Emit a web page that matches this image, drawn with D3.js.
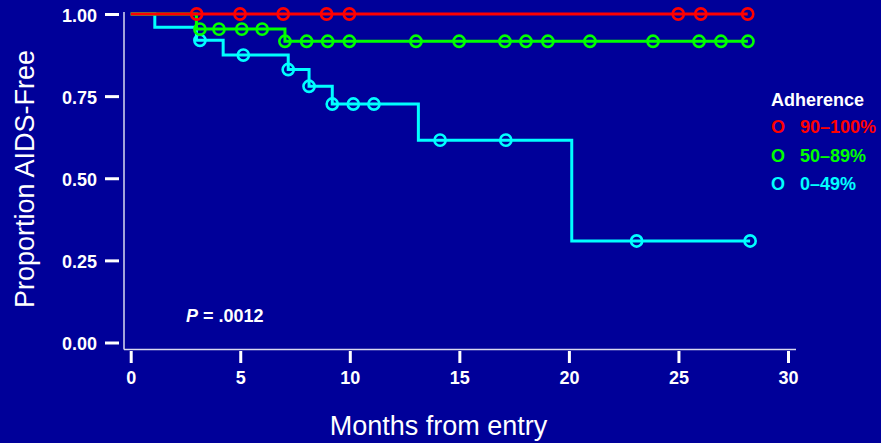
<!DOCTYPE html>
<html>
<head>
<meta charset="utf-8">
<script src="https://cdn.jsdelivr.net/npm/d3@7/dist/d3.min.js"></script>
<style>
  html, body { margin: 0; padding: 0; background: #000099; }
  svg { display: block; }
  text { font-family: "Liberation Sans", Arial, Helvetica, sans-serif; fill: #ffffff; }
</style>
</head>
<body>
<svg id="chart" width="881" height="443"></svg>
<script>
// Kaplan-Meier curves: proportion AIDS-free by adherence group
const groupLabels = ["90\u2013100%", "50\u201389%", "0\u201349%"];
const groupColors = ["#ff0000", "#00ff00", "#00ffff"];

// Event times (months) and survival level after each event
const redEventTimes = [];
const redSurvival = [];
const redCensored = [3.01, 4.99, 6.96, 8.94, 9.98, 24.99, 26.02, 28.16];
const redEnd = 28.16;

const greenEventTimes = [3.0, 7.04];
const greenSurvival = [0.954, 0.917];
const greenCensored = [3.16, 4.03, 5.07, 6.0, 7.04, 8.03, 8.99, 9.98, 13.02, 14.99, 17.08, 18.04, 19.04, 20.96, 23.84, 25.94, 26.94, 28.17];
const greenEnd = 28.17;

const cyanEventTimes = [1.1, 3.0, 4.22, 7.19, 8.14, 9.2, 13.13, 20.13];
const cyanSurvival = [0.96, 0.92, 0.875, 0.831, 0.78, 0.726, 0.616, 0.309];
const cyanCensored = [3.16, 5.14, 7.19, 8.14, 9.2, 10.16, 11.1, 14.12, 17.12, 23.09, 28.27];
const cyanEnd = 28.27;

const xTicks = [0, 5, 10, 15, 20, 25, 30];
const yTicks = [0, 0.25, 0.5, 0.75, 1.0];
const pValueText = " = .0012";

const series = [
  { times: cyanEventTimes, surv: cyanSurvival, censored: cyanCensored, end: cyanEnd, color: groupColors[2] },
  { times: greenEventTimes, surv: greenSurvival, censored: greenCensored, end: greenEnd, color: groupColors[1] },
  { times: redEventTimes, surv: redSurvival, censored: redCensored, end: redEnd, color: groupColors[0] }
];

const svg = d3.select("#chart");
svg.append("rect").attr("width", 881).attr("height", 443).attr("fill", "#000099");

const x = d3.scaleLinear().domain([0, 30]).range([130.7, 788]);
const y = d3.scaleLinear().domain([0, 1]).range([342.5, 14]);

// Frame: left and bottom lines
const frameColor = "#d8d8f0";
svg.append("line").attr("x1", 124).attr("x2", 124).attr("y1", 12).attr("y2", 349.5)
  .attr("stroke", frameColor).attr("stroke-width", 1.5);
svg.append("line").attr("x1", 124).attr("x2", 796).attr("y1", 349.5).attr("y2", 349.5)
  .attr("stroke", frameColor).attr("stroke-width", 1.5);

// Y axis (detached ticks)
const yAxis = svg.append("g").attr("transform", "translate(119,0)")
  .call(d3.axisLeft(y).tickValues(yTicks).tickFormat(d3.format(".2f")).tickSizeInner(14).tickSizeOuter(0).tickPadding(8));
yAxis.select(".domain").remove();
yAxis.selectAll(".tick line").attr("stroke", "#ffffff").attr("stroke-width", 3);
yAxis.selectAll(".tick text").attr("fill", "#ffffff").attr("font-size", 18).attr("font-weight", "bold")
  .attr("dy", "0.4em").style("font-family", '"Liberation Sans", Arial, sans-serif');

// X axis (detached ticks)
const xAxis = svg.append("g").attr("transform", "translate(0,351)")
  .call(d3.axisBottom(x).tickValues(xTicks).tickFormat(d3.format("d")).tickSizeInner(12).tickSizeOuter(0).tickPadding(8));
xAxis.select(".domain").remove();
xAxis.selectAll(".tick line").attr("stroke", "#ffffff").attr("stroke-width", 3);
xAxis.selectAll(".tick text").attr("fill", "#ffffff").attr("font-size", 18).attr("font-weight", "bold")
  .style("font-family", '"Liberation Sans", Arial, sans-serif');

// Survival step curves
const line = d3.line().x(d => x(d[0])).y(d => y(d[1])).curve(d3.curveStepAfter);
function levelAt(s, t) {
  const i = d3.bisectRight(s.times, t + 1e-9);
  return i === 0 ? 1 : s.surv[i - 1];
}
series.forEach(s => {
  const pts = [[0, 1]];
  s.times.forEach((t, i) => pts.push([t, s.surv[i]]));
  pts.push([s.end, s.surv.length ? s.surv[s.surv.length - 1] : 1]);
  svg.append("path").datum(pts).attr("d", line)
    .attr("fill", "none").attr("stroke", s.color).attr("stroke-width", 3)
    .attr("stroke-linejoin", "miter");
  svg.append("g").selectAll("circle").data(s.censored).join("circle")
    .attr("cx", d => x(d)).attr("cy", d => y(levelAt(s, d))).attr("r", 5.6)
    .attr("fill", "none").attr("stroke", s.color).attr("stroke-width", 2.6);
});

// Axis titles
svg.append("text").attr("x", 438.5).attr("y", 435).attr("text-anchor", "middle")
  .attr("font-size", 27).text("Months from entry");
svg.append("text").attr("transform", "translate(34,179) rotate(-90)").attr("text-anchor", "middle")
  .attr("font-size", 27).text("Proportion AIDS-Free");

// P value
const pText = svg.append("text").attr("x", 186).attr("y", 322).attr("font-size", 18).attr("font-weight", "bold");
pText.append("tspan").attr("font-style", "italic").text("P");
pText.append("tspan").text(pValueText);

// Legend
svg.append("text").attr("x", 771).attr("y", 106).attr("font-size", 18).attr("font-weight", "bold").text("Adherence");
const legendRows = [133, 161.5, 190];
groupLabels.forEach((lab, i) => {
  svg.append("text").attr("x", 771).attr("y", legendRows[i]).attr("font-size", 18).attr("font-weight", "bold")
    .style("fill", groupColors[i]).text("O");
  svg.append("text").attr("x", 800).attr("y", legendRows[i]).attr("font-size", 18).attr("font-weight", "bold")
    .style("fill", groupColors[i]).text(lab);
});
</script>
</body>
</html>
